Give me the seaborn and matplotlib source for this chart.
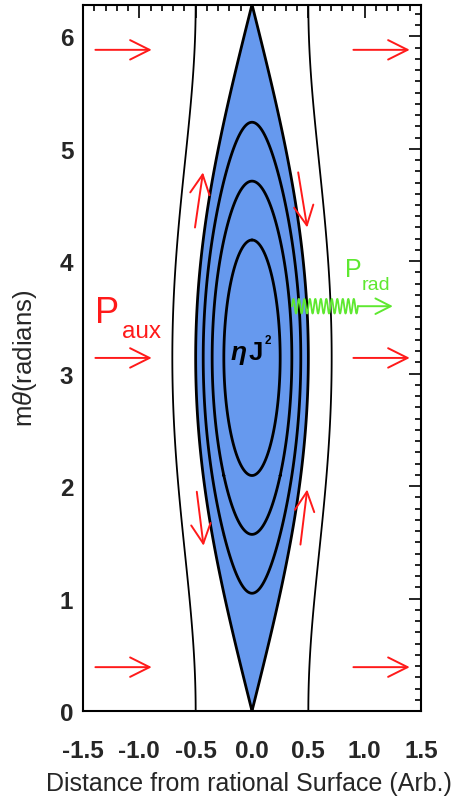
import numpy as np
import matplotlib
matplotlib.use("Agg")
import matplotlib.pyplot as plt
from matplotlib.ticker import MultipleLocator
import seaborn as sns

# ---------------- data ----------------
island_half_width = 0.5                     # separatrix half-width at the O-point
flux_levels = [-0.5, 0.0, 0.5, 1.0, 3.0]    # normalised flux levels of drawn surfaces
separatrix_level = 1.0
x_ticks = [-1.5, -1.0, -0.5, 0.0, 0.5, 1.0, 1.5]
x_tick_labels = ["-1.5", "-1.0", "-0.5", "0.0", "0.5", "1.0", "1.5"]
y_ticks = [0, 1, 2, 3, 4, 5, 6]
y_tick_labels = ["0", "1", "2", "3", "4", "5", "6"]

# auxiliary heating arrows (x start, x end) and their m*theta positions
aux_left_x = [-1.39, -0.89]
aux_right_x = [0.90, 1.40]
aux_theta = [0.39, 3.14, 5.88]

# flow arrows along the separatrix
flow_x0 = [-0.506, 0.41, -0.49, 0.43]
flow_t0 = [4.30, 4.79, 1.95, 1.48]
flow_x1 = [-0.435, 0.49, -0.43, 0.49]
flow_t1 = [4.79, 4.30, 1.47, 1.97]

# radiation arrow
rad_wave_x = [0.355, 0.94]
rad_arrow_x = [0.94, 1.25]
rad_theta = 3.6
rad_wave_cycles = 12
rad_wave_amp = 0.065

blue = "#6699EE"
red = "#FF1A1A"
green = "#5EE830"

# ---------------- style ----------------
sns.set_style("white")
plt.rcParams["font.family"] = ["Liberation Sans", "DejaVu Sans"]
plt.rcParams["mathtext.fontset"] = "custom"
plt.rcParams["mathtext.it"] = "Liberation Sans:italic"
plt.rcParams["mathtext.rm"] = "Liberation Sans"
plt.rcParams["contour.negative_linestyle"] = "solid"

fig = plt.figure(figsize=(4.61, 8.03), dpi=100)
ax = fig.add_axes([83 / 461, 1 - 712 / 803, 338 / 461, 706.5 / 803])

# flux function psi/a = x^2/a + cos(theta), a = w^2/2
a = island_half_width ** 2 / 2.0
xg = np.linspace(-1.5, 1.5, 1201)
tg = np.linspace(0, 2 * np.pi, 1201)
X, T = np.meshgrid(xg, tg)
F = X ** 2 / a + np.cos(T)

ax.contourf(X, T, F, levels=[F.min() - 1, separatrix_level], colors=[blue])
inner = [l for l in flux_levels if l <= separatrix_level]
outer = [l for l in flux_levels if l > separatrix_level]
ax.contour(X, T, F, levels=inner, colors="black", linewidths=2.0, linestyles="solid")
ax.contour(X, T, F, levels=outer, colors="black", linewidths=1.3, linestyles="solid")

arrow_kw = dict(arrowstyle="->,head_length=0.7,head_width=0.35", color=red,
                lw=1.4, mutation_scale=20, shrinkA=0, shrinkB=0)
for th in aux_theta:
    ax.annotate("", xy=(aux_left_x[1], th), xytext=(aux_left_x[0], th), arrowprops=arrow_kw)
    ax.annotate("", xy=(aux_right_x[1], th), xytext=(aux_right_x[0], th), arrowprops=arrow_kw)
for x0, t0, x1, t1 in zip(flow_x0, flow_t0, flow_x1, flow_t1):
    ax.annotate("", xy=(x1, t1), xytext=(x0, t0), arrowprops=arrow_kw)

# radiation: wavy line + arrow
wx = np.linspace(rad_wave_x[0], rad_wave_x[1], 400)
wy = rad_theta + rad_wave_amp * np.sin(2 * np.pi * rad_wave_cycles *
                                        (wx - wx[0]) / (wx[-1] - wx[0]))
sns.lineplot(x=wx, y=wy, sort=False, color=green, lw=1.3, ax=ax)
ax.annotate("", xy=(rad_arrow_x[1], rad_theta), xytext=(rad_arrow_x[0], rad_theta),
            arrowprops=dict(arrowstyle="->,head_length=0.55,head_width=0.28", color=green,
                            lw=1.4, mutation_scale=20, shrinkA=0, shrinkB=0))

# labels inside the plot
ax.text(-1.393, 3.46, "P", color=red, fontsize=26, ha="left", va="baseline")
ax.text(-1.153, 3.33, "aux", color=red, fontsize=17.5, ha="left", va="baseline")
ax.text(0.825, 3.87, "P", color=green, fontsize=18, ha="left", va="baseline")
ax.text(0.975, 3.75, "rad", color=green, fontsize=14, ha="left", va="baseline")
ax.text(-0.19, 3.13, "η", color="black", fontsize=19, fontweight="bold",
        style="italic", ha="left", va="baseline")
ax.text(-0.03, 3.13, "J", color="black", fontsize=18.5, fontweight="bold",
        ha="left", va="baseline")
ax.text(0.115, 3.27, "2", color="black", fontsize=8.5, fontweight="bold",
        ha="left", va="baseline")

# axes
ax.set_xlim(-1.5, 1.5)
ax.set_ylim(0, 2 * np.pi)
ax.set_xticks(x_ticks)
ax.set_xticklabels(x_tick_labels, fontsize=17.5, fontweight="bold")
ax.set_yticks(y_ticks)
ax.set_yticklabels(y_tick_labels, fontsize=17.5, fontweight="bold")
ax.xaxis.set_minor_locator(MultipleLocator(0.1))
ax.yaxis.set_minor_locator(MultipleLocator(0.1))
ax.tick_params(which="both", direction="in", top=True, right=True, color="black", width=1.2)
ax.tick_params(which="major", length=9)
ax.tick_params(which="minor", length=4.5)
ax.tick_params(axis="x", which="major", pad=20)
ax.tick_params(axis="y", which="major", pad=7)
for s in ax.spines.values():
    s.set_linewidth(1.5)
    s.set_color("black")

ax.set_xlabel("Distance from rational Surface (Arb.)", fontsize=18)
ax.set_ylabel(r"m$\theta$(radians)", fontsize=18.5)
ax.xaxis.set_label_coords(0.49, -0.085)
ax.yaxis.set_label_coords(-0.13, 0.5)

fig.savefig("out.png", dpi=100, facecolor="white")
